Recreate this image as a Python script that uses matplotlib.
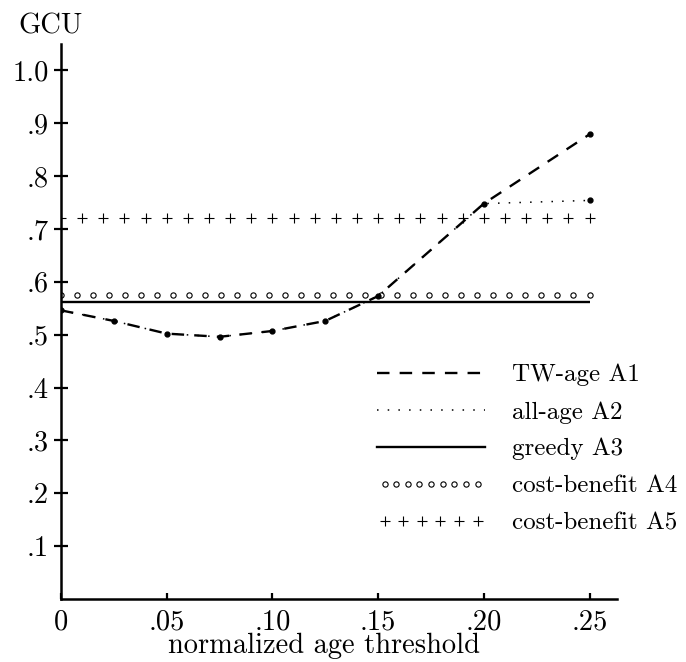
import numpy as np
import matplotlib
matplotlib.use('Agg')
import matplotlib.pyplot as plt
from matplotlib.lines import Line2D
from matplotlib.legend_handler import HandlerLine2D

plt.rcParams['font.family'] = ['cmr10', 'DejaVu Serif']
plt.rcParams['axes.formatter.use_mathtext'] = True
plt.rcParams['font.size'] = 20.5
plt.rcParams['lines.scale_dashes'] = False

# data
thresholds = [0, .025, .05, .075, .10, .125, .15, .20, .25]
tw_age = [.546, .526, .502, .496, .507, .526, .573, .748, .879]      # A1
all_age = [.546, .526, .502, .496, .507, .526, .573, .748, .754]     # A2
greedy = .562        # A3
cb_a4 = .576         # A4
cb_a5 = .721         # A5

xticks = [0, .05, .10, .15, .20, .25]
xticklabels = ['0', '.05', '.10', '.15', '.20', '.25']
yticks = [.1, .2, .3, .4, .5, .6, .7, .8, .9, 1.0]
yticklabels = ['.1', '.2', '.3', '.4', '.5', '.6', '.7', '.8', '.9', '1.0']

fig = plt.figure(figsize=(6.86, 6.62), dpi=100)
ax = fig.add_axes([0.0889, 0.0952, 0.8105, 0.8384])

# constant baselines drawn as marker rows across the threshold range
x4 = np.linspace(0, .25, 34)
x5 = np.linspace(0, .25, 26)
ax.plot([0, .25], [greedy, greedy], color='black', lw=1.7, solid_capstyle='butt')
ax.plot(x4, [cb_a4] * len(x4), ls='none', marker='o', ms=3.8, mfc='white',
        mec='black', mew=0.8)
ax.plot(x5, [cb_a5] * len(x5), ls='none', marker='+', ms=7.5, color='black', mew=0.8)

ax.plot(thresholds, all_age, color='black', lw=1.1, dashes=(1.1, 6.6))
ax.plot(thresholds, tw_age, color='black', lw=1.7, dashes=(9, 7.3))
ax.plot(thresholds, tw_age, ls='none', marker='o', ms=3.5, color='black')
ax.plot(thresholds[-1:], all_age[-1:], ls='none', marker='o', ms=3.5, color='black')

ax.set_xlim(0, 0.263)
ax.set_ylim(0, 1.05)
ax.set_xticks(xticks)
ax.set_xticklabels(xticklabels)
ax.set_yticks(yticks)
ax.set_yticklabels(yticklabels)
for s in ['top', 'right']:
    ax.spines[s].set_visible(False)
for s in ['left', 'bottom']:
    ax.spines[s].set_linewidth(1.8)
ax.tick_params(axis='y', direction='inout', length=10, width=1.6, pad=4)
ax.tick_params(axis='x', direction='in', length=4.5, width=1.6, pad=7)

fig.text(50 / 686, 1 - 26 / 662, 'GCU', ha='center', va='center')
fig.text(324.5 / 686, 1 - 653 / 662, 'normalized age threshold', ha='center',
         va='baseline', fontsize=20.5)

handles = [
    Line2D([], [], color='black', lw=1.7, dashes=(9, 7.3)),
    Line2D([], [], color='black', lw=1.1, dashes=(1.1, 6.6)),
    Line2D([], [], color='black', lw=1.7),
    Line2D([], [], ls='none', marker='o', ms=3.8, mfc='white', mec='black', mew=0.8),
    Line2D([], [], ls='none', marker='+', ms=7.5, color='black', mew=0.8),
]
labels = ['TW-age A1', 'all-age A2', 'greedy A3', 'cost-benefit A4', 'cost-benefit A5']
leg = ax.legend(handles, labels, frameon=False, loc='upper left', fontsize=18,
                bbox_to_anchor=(377 / 686, 1 - 364 / 662), bbox_transform=fig.transFigure,
                handlelength=4.32, handletextpad=1.08, labelspacing=0.58, borderpad=0,
                borderaxespad=0,
                handler_map={handles[3]: HandlerLine2D(numpoints=9),
                             handles[4]: HandlerLine2D(numpoints=6)})

fig.savefig('out.png', dpi=100)
